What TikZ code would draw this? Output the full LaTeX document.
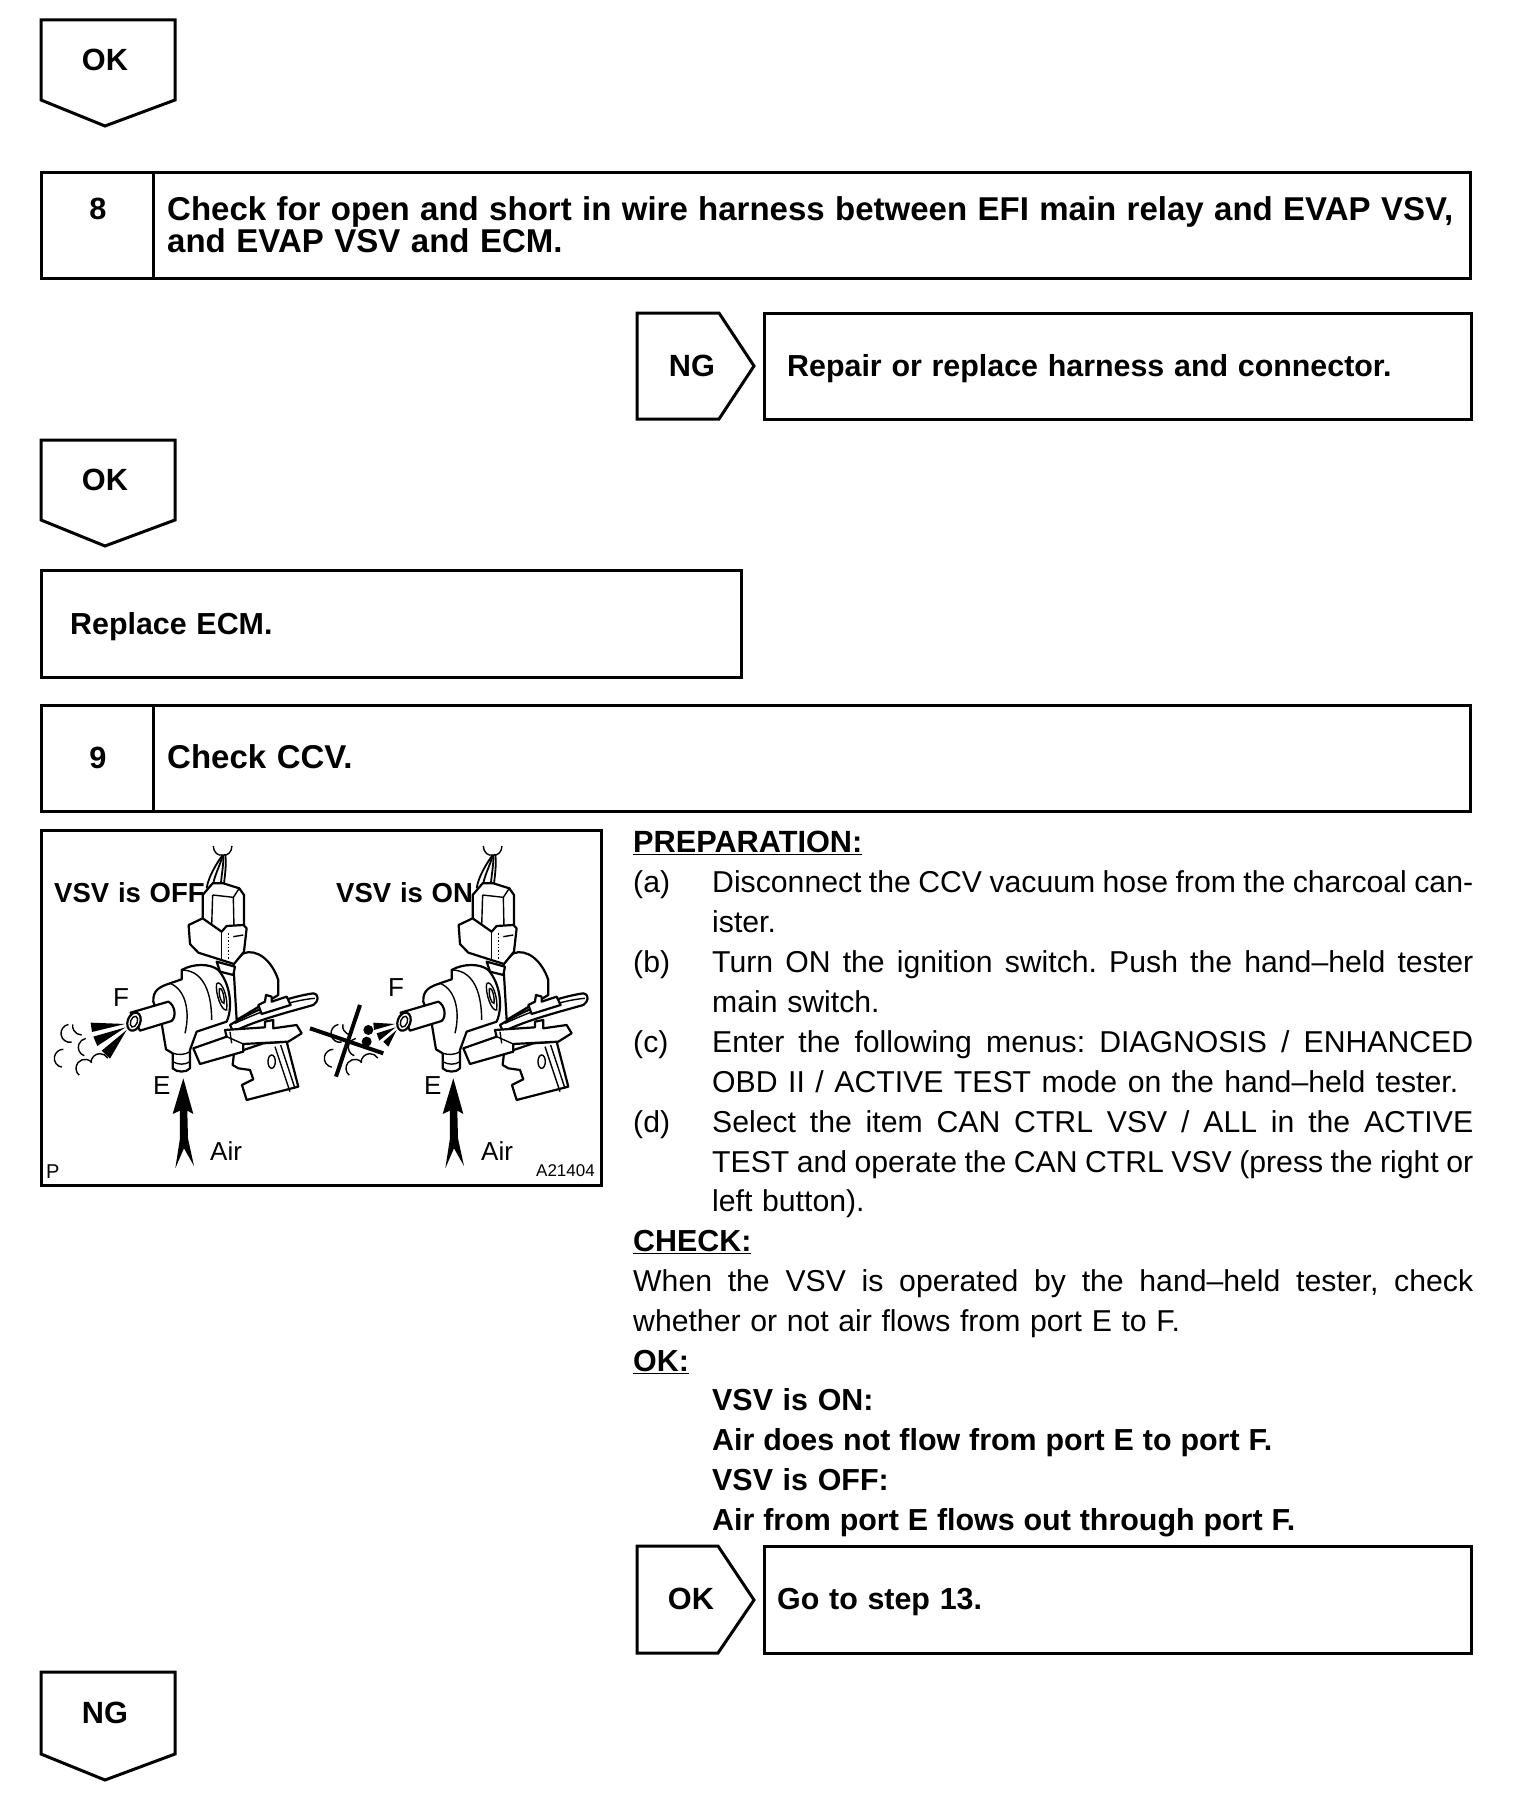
\documentclass[tikz,border=0pt]{standalone}
\usepackage{fontspec}
\setmainfont[WordSpace=1.15]{Liberation Sans}
\frenchspacing
\newcommand{\jl}[2]{\hbox to #1pt{#2}}
\newcommand{\valvepic}{%
 % wires
 \draw[vl] (550,78) .. controls (552,100) and (565,108) .. (578,105) .. controls (595,108) and (605,95) .. (606,78);
 \draw[vw] (578,105) .. controls (560,130) and (535,170) .. (530,205);
 \draw[vw] (578,105) .. controls (570,140) and (550,170) .. (548,205);
 \draw[vw] (580,105) .. controls (582,140) and (570,180) .. (572,225);
 \draw[vw] (586,105) .. controls (590,130) and (585,170) .. (578,220);
 % back cylinder
 \draw[vb] (610,430) -- (640,400) .. controls (680,385) and (725,420) .. (745,480) -- (745,525) -- (620,600) -- cycle;
 % upper connector
 \draw[vb] (518,300) -- (518,225) -- (548,190) -- (580,190) -- (628,205) -- (642,225) -- (642,325) -- (570,335) -- cycle;
 \draw[vl] (548,225) -- (610,232) -- (628,205);
 \draw[vl] (548,225) -- (545,320);
 \draw[vl] (610,232) -- (612,320);
 % lower connector
 \draw[vb] (476,315) -- (518,295) -- (575,335) -- (590,318) -- (640,315) -- (650,325) -- (642,395) -- (612,432) -- (505,398) -- (480,372) -- cycle;
 \draw[vl] (575,335) -- (575,420);
 \draw[vl,dotted] (595,340) -- (595,425);
 \draw[vl] (610,350) -- (640,345);
 % stem
 \draw[vb] (560,425) -- (615,440) -- (610,465) -- (570,455) -- cycle;
 % main body
 \draw[vb] (395,610) -- (370,545) .. controls (368,510) and (390,500) .. (420,490) -- (455,478) -- (455,450) .. controls (490,430) and (540,430) .. (565,450) .. controls (600,490) and (610,560) .. (590,605) -- (500,635) -- (480,690) -- (480,745) .. controls (470,758) and (440,758) .. (428,745) -- (428,700) -- (408,688) -- cycle;
 \draw[vl] (428,700) .. controls (445,705) and (465,705) .. (480,695);
 \draw[vl] (428,725) .. controls (445,735) and (465,735) .. (480,725);
 \draw[vl] (455,450) .. controls (510,450) and (545,500) .. (545,600);
 \draw[vl] (420,490) .. controls (470,510) and (480,580) .. (465,640);
 \draw[vl] (560,490) .. controls (575,480) and (595,530) .. (590,570) .. controls (575,575) and (555,520) .. (560,490);
 \draw[vl] (568,505) .. controls (575,500) and (585,530) .. (582,550) .. controls (575,552) and (565,525) .. (568,505);
 % nozzle
 \draw[vb] (302,578) -- (415,545) .. controls (435,555) and (440,590) .. (425,603) -- (330,632) -- cycle;
 \draw[vb] (312,605) ellipse[x radius=19,y radius=28,rotate=-20];
 \draw[vl] (312,605) ellipse[x radius=10,y radius=17,rotate=-20];
 % lower plate
 \draw[vb] (612,700) -- (608,735) -- (625,745) -- (660,750) -- (670,778) -- (636,795) -- (650,840) -- (805,800) -- (770,665) -- (700,670) -- cycle;
 \draw[vl] (725,725) ellipse[x radius=11,y radius=20];
 \draw[vl] (735,680) -- (780,815);
 \draw[vl] (752,675) -- (795,805);
 % blade
 \draw[vb] (600,615) .. controls (680,565) and (780,530) .. (850,520) .. controls (870,525) and (865,545) .. (850,555) .. controls (780,575) and (680,600) .. (610,635) -- cycle;
 \draw[vl] (615,610) .. controls (700,570) and (790,540) .. (855,535);
 \draw[vb] (685,555) -- (705,545) -- (708,525) -- (725,530) -- (725,545) -- (770,530) -- (782,555) -- (695,582) -- cycle;
 % bracket
 \draw[vb] (490,685) -- (590,650) -- (585,630) -- (705,622) -- (705,605) -- (730,600) -- (730,625) -- (800,615) -- (815,640) -- (775,665) -- (640,672) -- (640,695) -- (510,732) -- cycle;
 \draw[vl] (600,635) -- (605,670);
 \draw[vl] (640,672) -- (590,650);
 % flow arrow
 \fill (460,775) -- (490,882) -- (472,872) -- (474,955) -- (492,1038) -- (462,985) -- (436,1045) -- (450,955) -- (450,872) -- (428,882) -- cycle;
 % clouds
 \foreach \cx/\cy/\sa/\ea in {155/618/90/190,120/640/80/260,172/682/110/260,100/715/100/270,165/745/130/320,210/728/180/330}
   \draw[vl] (\cx,\cy) ++(\sa:27) arc[start angle=\sa,end angle=\ea,radius=27];
}
\begin{document}
\begin{tikzpicture}[x=1pt,y=-1pt,
 box/.style={line width=3pt,line join=miter,fill=white},
 txt/.style={font=\fontsize{30.2}{40}\selectfont,inner sep=0pt,anchor=base west},
 btxt/.style={font=\fontsize{30.4}{40}\selectfont\bfseries,inner sep=0pt,anchor=base west},
 ttl/.style={font=\fontsize{33}{40}\selectfont\bfseries,inner sep=0pt,anchor=base west},
 ctr/.style={font=\fontsize{30.7}{40}\selectfont\bfseries,inner sep=0pt,anchor=base},
 art/.style={font=\fontsize{26}{30}\selectfont,inner sep=0pt,anchor=base west},
 artb/.style={font=\fontsize{27.5}{30}\selectfont\bfseries,inner sep=0pt,anchor=base west},
 arts/.style={font=\fontsize{17}{20}\selectfont,inner sep=0pt,anchor=base west},
 vl/.style={line width=1.4pt},
 vw/.style={line width=1.8pt},
 vb/.style={line width=2.2pt,fill=white,line join=round},
 wedge/.style={fill=black}]
\useasboundingbox (0,0) rectangle (1520,1806);
\fill[white] (0,0) rectangle (1520,1806);
% top OK
\draw[box] (41,20) -- (175,20) -- (175,100) -- (105,126) -- (41,100) -- cycle;
\node[ctr] (ok1) at (105,71) {OK};
% step 8
\draw[box] (41,173) rectangle (1470,278);
\draw[box] (153,173) -- (153,278);
\node[ctr] (n8) at (98,219) {8};
\node[ttl] (t8a) at (167,220) {\jl{1286}{Check for open and short in wire harness between EFI main relay and EVAP VSV,}};
\node[ttl] (t8b) at (167,252) {and EVAP VSV and ECM.};
% NG right
\draw[box] (637,313) -- (719,313) -- (754,366) -- (719,419) -- (637,419) -- cycle;
\node[ctr] (ng1) at (692,376) {NG};
\draw[box] (764,313) rectangle (1471,419);
\node[btxt] (rep) at (787,376) {Repair or replace harness and connector.};
% OK 2
\draw[box] (41,440) -- (175,440) -- (175,520) -- (105,546) -- (41,520) -- cycle;
\node[ctr] (ok2) at (105,490) {OK};
% Replace ECM
\draw[box] (41,570) rectangle (741,677);
\node[btxt] (ecm) at (70,634) {Replace ECM.};
% step 9
\draw[box] (41,705) rectangle (1470,811);
\draw[box] (153,705) -- (153,811);
\node[ctr] (n9) at (98,768) {9};
\node[ttl] (t9) at (167,768) {Check CCV.};
% picture
\draw[box] (41,830) rectangle (601,1185);
\node[artb] (off) at (54,902) {VSV is OFF};
\node[artb] (on) at (336,902) {VSV is ON};
\begin{scope}[shift={(30,820)},x=0.3333pt,y=-0.3333pt]
 \valvepic
 \fill[wedge] (285,612) -- (182,608) -- (186,636) -- cycle;
 \fill[wedge] (287,622) -- (190,650) -- (202,678) -- cycle;
 \fill[wedge] (290,630) -- (215,692) -- (240,716) -- cycle;
\end{scope}
\begin{scope}[shift={(300,820)},x=0.3333pt,y=-0.3333pt]
 \valvepic
 \fill[wedge] (285,612) -- (220,608) -- (222,630) -- cycle;
 \fill[wedge] (287,622) -- (230,640) -- (238,662) -- cycle;
 \fill[wedge] (290,630) -- (250,665) -- (265,680) -- cycle;
 \fill[wedge] (205,630) circle (15);
 \fill[wedge] (200,665) circle (15);
 \draw[line width=4pt] (180,555) -- (108,770);
 \draw[line width=4pt] (30,625) -- (250,700);
\end{scope}
\node[art] (f1) at (113,1006) {F};
\node[art] (e1) at (153,1094) {E};
\node[art] (a1) at (210,1160) {Air};
\node[art] (f2) at (388,996) {F};
\node[art] (e2) at (424,1094) {E};
\node[art] (a2) at (481,1160) {Air};
\node[arts,font=\fontsize{20}{20}\selectfont] (p) at (46,1178) {P};
\node[arts] (code) at (536,1176) {A21404};
% text column
\node[btxt,font=\fontsize{30.7}{40}\selectfont\bfseries] (l0) at (633,852) {\underline{PREPARATION:}};
\node[txt] (l1a) at (633,892) {(a)};
\node[txt] (l1) at (712,892) {\jl{761}{Disconnect the CCV vacuum hose from the charcoal can-}};
\node[txt] (l2) at (712,932) {ister.};
\node[txt] (l3a) at (633,972) {(b)};
\node[txt] (l3) at (712,972) {\jl{761}{Turn ON the ignition switch. Push the hand--held tester}};
\node[txt] (l4) at (712,1012) {main switch.};
\node[txt] (l5a) at (633,1052) {(c)};
\node[txt] (l5) at (712,1052) {\jl{761}{Enter the following menus: DIAGNOSIS / ENHANCED}};
\node[txt] (l6) at (712,1092) {\jl{746}{OBD II / ACTIVE TEST mode on the hand--held tester.}};
\node[txt] (l7a) at (633,1132) {(d)};
\node[txt] (l7) at (712,1132) {\jl{761}{Select the item CAN CTRL VSV / ALL in the ACTIVE}};
\node[txt] (l8) at (712,1172) {\jl{761}{TEST and operate the CAN CTRL VSV (press the right or}};
\node[txt] (l9) at (712,1211) {left button).};
\node[btxt] (l10) at (633,1251) {\underline{CHECK:}};
\node[txt] (l11) at (633,1291) {\jl{840}{When the VSV is operated by the hand--held tester, check}};
\node[txt] (l12) at (633,1331) {whether or not air flows from port E to F.};
\node[btxt] (l13) at (633,1371) {\underline{OK:}};
\node[btxt] (l14) at (712,1410) {VSV is ON:};
\node[btxt] (l15) at (712,1450) {\jl{560}{Air does not flow from port E to port F.}};
\node[btxt] (l16) at (712,1490) {VSV is OFF:};
\node[btxt] (l17) at (712,1530) {\jl{583}{Air from port E flows out through port F.}};
% OK 3
\draw[box] (637,1546) -- (718,1546) -- (754,1600) -- (718,1653) -- (637,1653) -- cycle;
\node[ctr] (ok3) at (691,1609) {OK};
\draw[box] (764,1546) rectangle (1471,1653);
\node[btxt] (go) at (777,1609) {Go to step 13.};
% bottom NG
\draw[box] (41,1672) -- (175,1672) -- (175,1754) -- (105,1780) -- (41,1754) -- cycle;
\node[ctr] (ng2) at (105,1723) {NG};
\end{tikzpicture}
\end{document}
